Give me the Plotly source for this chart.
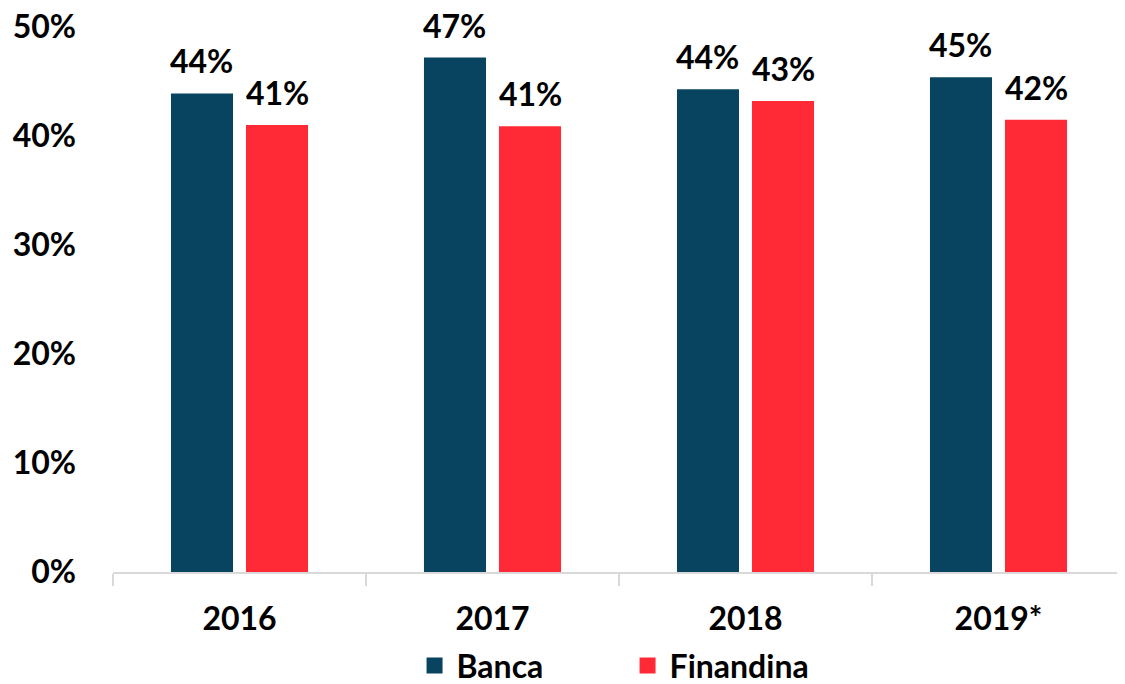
import plotly.graph_objects as go

years = ["2016", "2017", "2018", "2019*"]
banca = [0.439, 0.472, 0.443, 0.454]
finandina = [0.410, 0.409, 0.432, 0.415]
y_ticks = [0, 0.1, 0.2, 0.3, 0.4, 0.5]

FONT = "Lato"
FS = 32
BLUE = "#08435F"
RED = "#FF2A35"

W, H = 1117, 676
ML, MR, MT, MB = 105, 0, 19, 112
BARGAP, BARGROUPGAP = 0.407, 0.173

fig = go.Figure()
fig.add_bar(x=years, y=banca, name="Banca", marker_color=BLUE,
            marker_line_width=0, showlegend=False)
fig.add_bar(x=years, y=finandina, name="Finandina", marker_color=RED,
            marker_line_width=0, showlegend=False)
# legend entries
fig.add_scatter(x=[years[0]], y=[None], mode="markers", name="Banca",
                marker=dict(symbol="square", size=22, color=BLUE))
fig.add_scatter(x=[years[0]], y=[None], mode="markers", name="Finandina",
                marker=dict(symbol="square", size=22, color=RED))

# value labels above bars (pixel shift of each group member from the category centre)
cat_w = (W - ML - MR) / len(years)
slot = cat_w * (1 - BARGAP) / 2
for series, sign in ((banca, -1), (finandina, 1)):
    for i, v in enumerate(series):
        fig.add_annotation(x=i, y=v, xref="x", yref="y", text=f"{v:.0%}",
                           showarrow=False, yanchor="bottom", xshift=sign * slot / 2,
                           yshift=11, font=dict(size=FS, family=FONT, color="black",
                                                weight="bold"))

fig.update_layout(
    width=W, height=H,
    margin=dict(l=ML, r=MR, t=MT, b=MB, autoexpand=False),
    plot_bgcolor="white", paper_bgcolor="white",
    barmode="group", bargap=BARGAP, bargroupgap=BARGROUPGAP,
    font=dict(family=FONT, size=FS, color="black", weight="bold"),
    showlegend=True,
    legend=dict(orientation="h", x=0.296, xanchor="left", y=-0.172, yanchor="middle",
                font=dict(size=FS, family=FONT, weight="bold"), itemwidth=34,
                entrywidth=164, entrywidthmode="pixels",
                traceorder="normal"),
)
fig.update_xaxes(type="category", categoryorder="array", categoryarray=years,
                 range=[-0.5, len(years) - 0.5],
                 showline=True, linecolor="#D9D9D9", linewidth=2, ticks="outside",
                 tickson="boundaries", ticklen=12, tickcolor="#D9D9D9", tickwidth=2,
                 tickfont=dict(size=FS, family=FONT, weight="bold"), showgrid=False,
                 ticklabelstandoff=18)
fig.update_yaxes(range=[0, 0.5], tickvals=y_ticks, tickformat=".0%", showgrid=False,
                 zeroline=False, showline=False, ticklabeloverflow="allow",
                 tickfont=dict(size=FS, family=FONT, weight="bold"), ticklabelstandoff=36)

fig.write_html("out.html")
